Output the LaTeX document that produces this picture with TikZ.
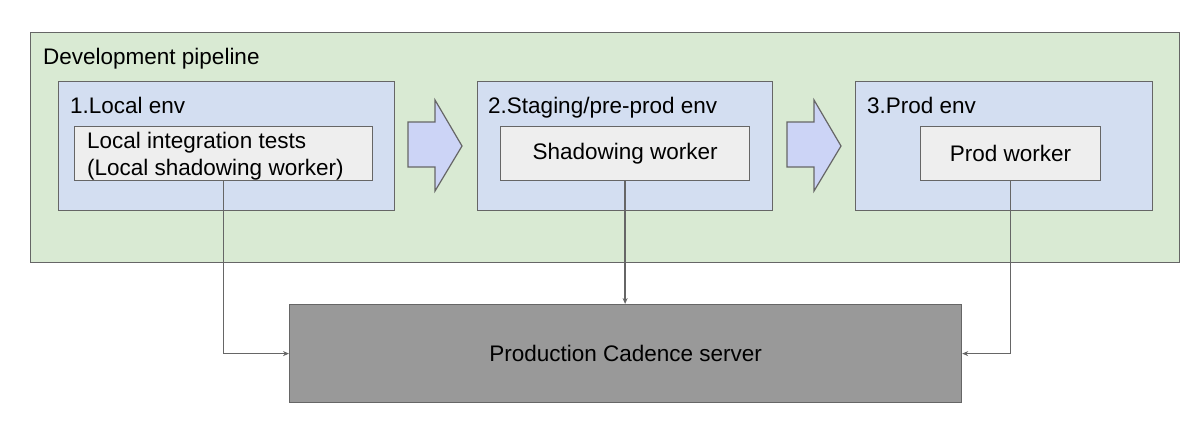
\documentclass[tikz,border=0pt]{standalone}
\usepackage{fontspec}
\setmainfont{Liberation Sans}
\usetikzlibrary{arrows.meta}
\definecolor{pipegreen}{HTML}{D9EAD3}
\definecolor{envblue}{HTML}{D3DEF1}
\definecolor{arrowblue}{HTML}{CCD4F6}
\definecolor{workergray}{HTML}{EEEEEE}
\definecolor{servergray}{HTML}{999999}
\definecolor{edgegray}{HTML}{666666}
\tikzset{
  box/.style={draw=edgegray, line width=1.2pt, anchor=north west, inner sep=0pt},
  pipebox/.style={box, fill=pipegreen},
  envbox/.style={box, fill=envblue},
  workerbox/.style={box, fill=workergray, minimum height=54pt},
  serverbox/.style={box, fill=servergray},
  lbl/.style={anchor=base west, inner sep=0pt},
  bigarrow/.style={draw=edgegray, line width=1.2pt, fill=arrowblue, line join=miter},
  link/.style={draw=edgegray, line width=1.3pt, -{Stealth[length=6pt,width=5pt]}}
}
\begin{document}
\begin{tikzpicture}[x=1pt, y=-1pt, font=\fontsize{22.5}{27}\selectfont]
    \useasboundingbox (0,0) rectangle (1204,428);
    % outer pipeline
    \node[pipebox, minimum width=1149pt, minimum height=230pt] (pipe) at (30,32) {};
    \node[lbl] (pipetext) at (43,65) {Development pipeline};
    % environments
    \node[envbox, minimum width=336pt, minimum height=129pt] (local) at (58,81) {};
    \node[envbox, minimum width=295pt, minimum height=129pt] (staging) at (477,81) {};
    \node[envbox, minimum width=297pt, minimum height=129pt] (prod) at (855,81) {};
    \node[lbl] (localtext) at (70,113.5) {1.Local env};
    \node[lbl] (stagingtext) at (488,113.5) {2.Staging/pre-prod env};
    \node[lbl] (prodtext) at (867,113.5) {3.Prod env};
    % workers
    \node[workerbox, minimum width=298pt] (tests) at (74,126) {};
    \node[lbl] (teststext1) at (87,148) {Local integration tests};
    \node[lbl] (teststext2) at (87,175) {(Local shadowing worker)};
    \node[workerbox, minimum width=249pt] (shadow) at (500,126) {};
    \node (shadowtext) at (shadow.center) {Shadowing worker};
    \node[workerbox, minimum width=180pt] (prodworker) at (920,126) {};
    \node (prodworkertext) at (prodworker.center) {Prod worker};
    % stage arrows
    \foreach \x in {408,787}
      \draw[bigarrow] (\x,122) -- ++(27,0) -- ++(0,-22) -- ++(27,46) -- ++(-27,45) -- ++(0,-24) -- ++(-27,0) -- cycle;
    % server
    \node[serverbox, minimum width=672pt, minimum height=98pt] (server) at (289,304) {};
    \node (servertext) at (server.center) {Production Cadence server};
    % links
    \draw[link] (tests.south) |- (server.west);
    \draw[link] (shadow.south) -- (shadow.south |- server.north);
    \draw[link] (prodworker.south) |- (server.east);
  \end{tikzpicture}
\end{document}
